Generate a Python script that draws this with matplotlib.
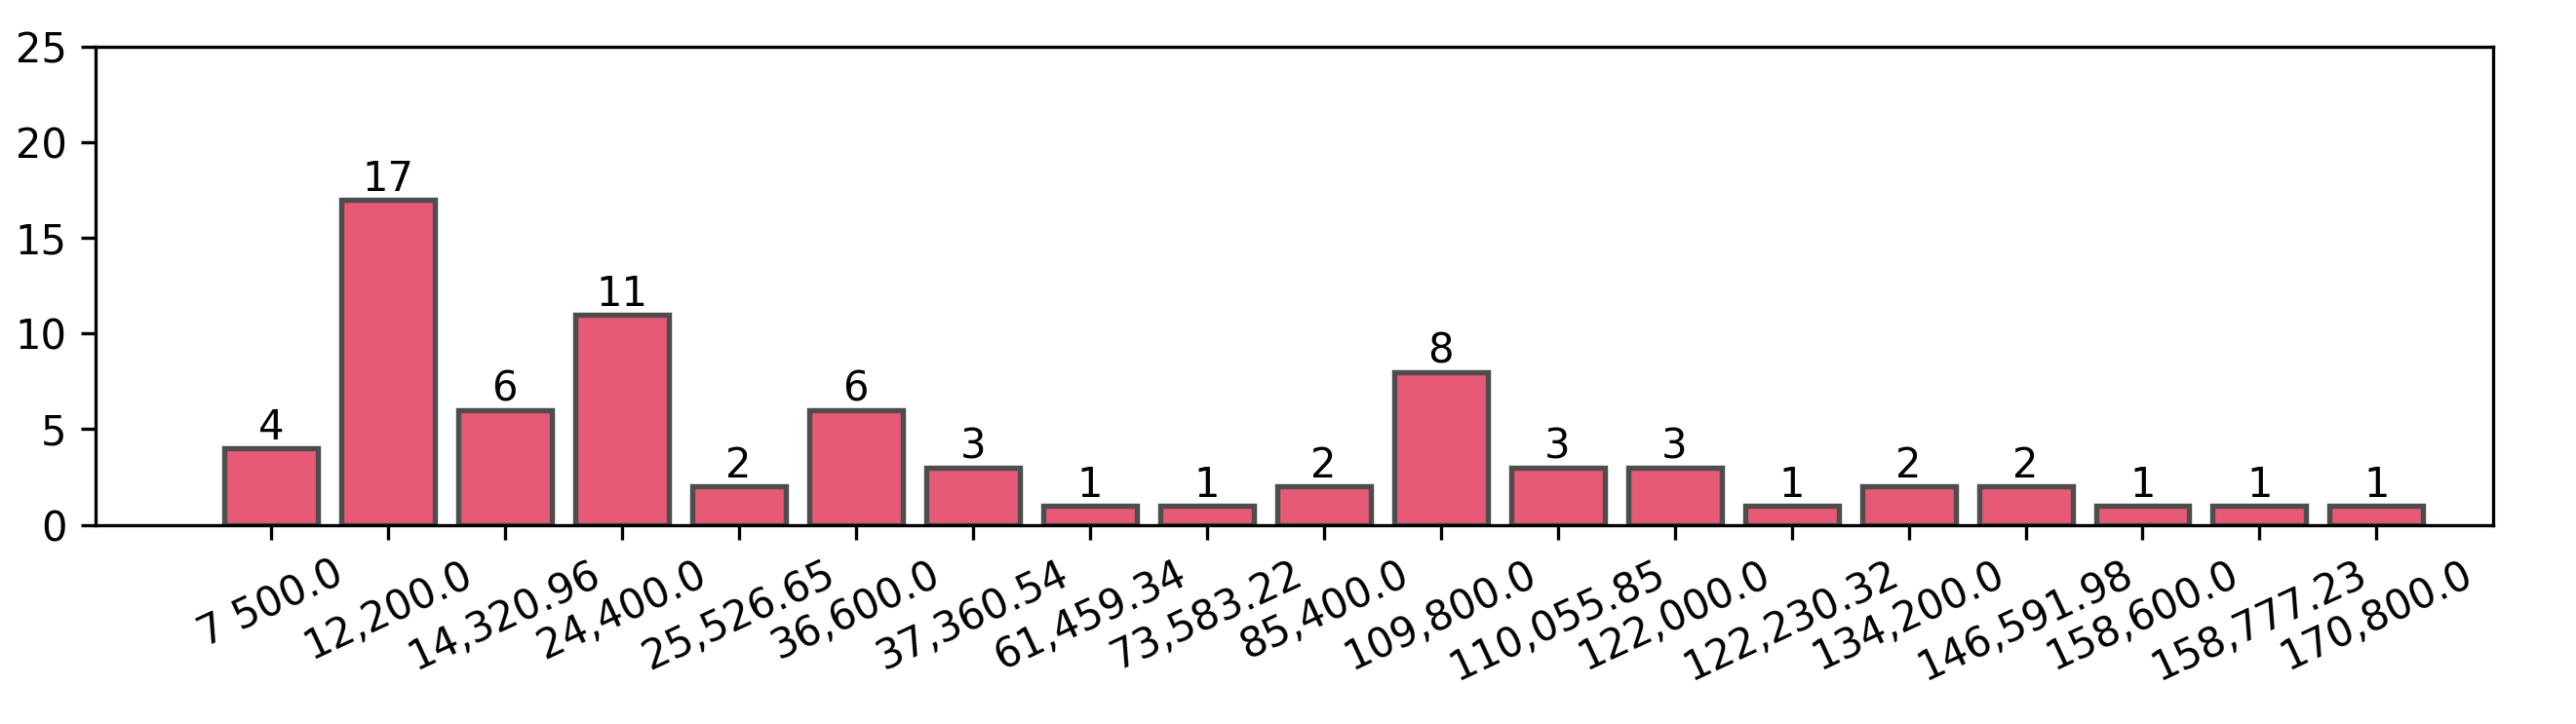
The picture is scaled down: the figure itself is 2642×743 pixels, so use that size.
import matplotlib
matplotlib.use("Agg")
import matplotlib.pyplot as plt
import numpy as np

etiquetas = ["7 500.0", "12,200.0", "14,320.96", "24,400.0", "25,526.65", "36,600.0",
             "37,360.54", "61,459.34", "73,583.22", "85,400.0", "109,800.0", "110,055.85",
             "122,000.0", "122,230.32", "134,200.0", "146,591.98", "158,600.0",
             "158,777.23", "170,800.0"]
conteos = [4, 17, 6, 11, 2, 6, 3, 1, 1, 2, 8, 3, 3, 1, 2, 2, 1, 1, 1]

fig = plt.figure(figsize=(2642 / 300, 743 / 300), dpi=300)
ax = fig.add_axes([0.037, 0.275, 0.942 - 0.011, 0.661])
x = np.arange(len(conteos))
barras = ax.bar(x, conteos, width=0.8, color="#e75a75", edgecolor="#4d4d4d", linewidth=1.3)
for b, v in zip(barras, conteos):
    ax.text(b.get_x() + b.get_width() / 2, v, str(v), ha="center", va="bottom", fontsize=10)
ax.set_xticks(x)
ax.set_xticklabels(etiquetas, rotation=25, ha="center", fontsize=10)
ax.tick_params(axis="y", labelsize=10)
ax.set_yticks([0, 5, 10, 15, 20, 25])
ax.set_ylim(0, 25)
ax.set_xlim(-1.5, 19.0)
fig.savefig("out.png", dpi=300)
